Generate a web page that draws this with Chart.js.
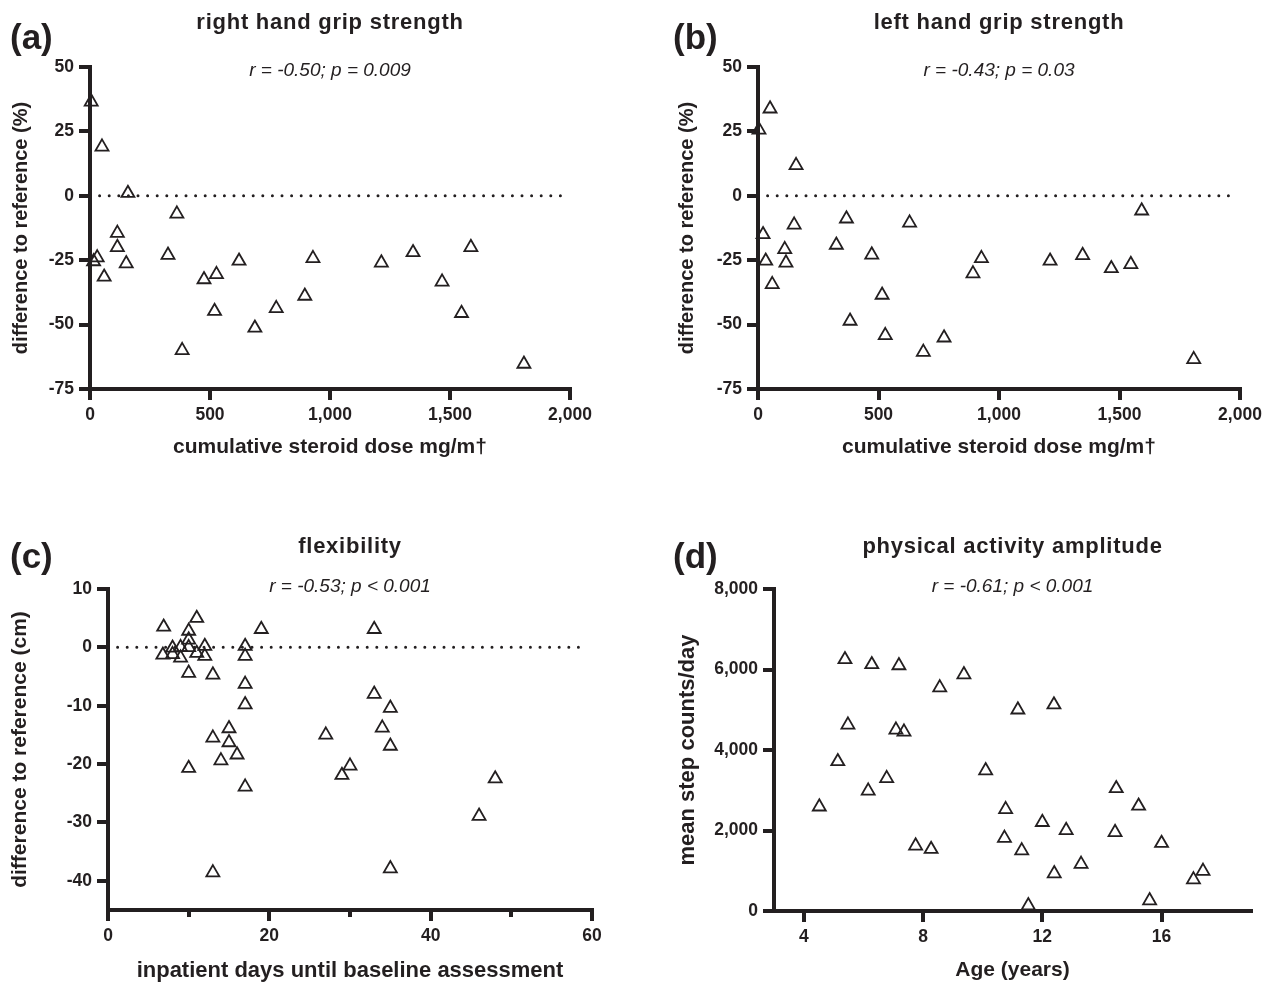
<!DOCTYPE html>
<html>
<head>
<meta charset="utf-8">
<script src="https://cdn.jsdelivr.net/npm/chart.js"></script>
<style>
  html, body { margin: 0; padding: 0; background: #fff; }
  #wrap { position: relative; width: 1270px; height: 984px; }
  canvas { position: absolute; }
</style>
</head>
<body>
<div id="wrap">
  <canvas id="chartA" width="635" height="492" style="left:0;top:0"></canvas>
  <canvas id="chartB" width="610" height="492" style="left:660px;top:0"></canvas>
  <canvas id="chartC" width="635" height="492" style="left:0;top:492px"></canvas>
  <canvas id="chartD" width="610" height="492" style="left:660px;top:492px"></canvas>
</div>
<script>
// (a) right hand grip strength vs cumulative steroid dose
const rightDose = [5, 50, 158, 362, 114, 114, 15, 30, 151, 59, 325, 384, 475, 527, 519, 621, 687, 776, 895, 929, 1214, 1346, 1467, 1548, 1587, 1808];
const rightDiff = [36.5, 19, 1, -7, -14.5, -20, -25.5, -24, -26.3, -31.5, -23, -60, -32.5, -30.5, -44.8, -25.3, -51.3, -43.7, -38.9, -24.3, -26, -22, -33.4, -45.6, -20, -65.3];

// (b) left hand grip strength vs cumulative steroid dose
const leftDose = [4, 50, 158, 1592, 21, 150, 367, 629, 325, 111, 32, 116, 59, 472, 515, 382, 528, 686, 772, 892, 927, 1212, 1347, 1466, 1547, 1808];
const leftDiff = [25.6, 33.8, 11.8, -5.8, -15, -11.3, -8.9, -10.5, -19.1, -20.8, -25.3, -26, -34.4, -22.9, -38.5, -48.6, -54.2, -60.7, -55.1, -30.2, -24.3, -25.3, -23.1, -28.2, -26.6, -63.5];

// (c) flexibility vs inpatient days
const flexDays = [6.9, 11, 10, 10, 8, 9, 10, 12, 6.8, 8, 9, 11, 12, 10, 13, 17, 17, 19, 17, 17, 13, 15, 15, 16, 14, 27, 33, 33, 35, 34, 35, 10, 17, 13, 29, 30, 35, 46, 48];
const flexDiff = [3.5, 5, 2.8, 1.3, -0.1, 0, 0, 0.2, -1.3, -1.2, -1.8, -1, -1.5, -4.4, -4.7, 0.2, -1.5, 3.1, -6.3, -9.8, -15.5, -13.9, -16.3, -18.4, -19.4, -15, 3.1, -8, -10.4, -13.8, -16.9, -20.7, -23.9, -38.6, -21.9, -20.3, -37.9, -28.9, -22.5];

// (d) physical activity amplitude vs age
const age = [4.52, 5.14, 6.16, 6.78, 7.75, 8.27, 10.1, 10.77, 10.73, 11.31, 11.53, 12.0, 12.4, 12.8, 13.3, 14.44, 14.48, 15.23, 15.6, 16.0, 17.07, 17.39, 5.38, 6.28, 7.19, 8.56, 9.37, 5.48, 7.09, 7.36, 11.18, 12.39];
const steps = [2590, 3715, 2985, 3295, 1620, 1535, 3490, 2525, 1810, 1500, 135, 2205, 930, 2005, 1165, 1955, 3045, 2610, 260, 1685, 780, 990, 6250, 6125, 6100, 5550, 5875, 4625, 4500, 4450, 5000, 5125];

// axis ticks
const doseTicks = [0, 500, 1000, 1500, 2000];
const gripTicks = [50, 25, 0, -25, -50, -75];
const dayTicks = [0, 10, 20, 30, 40, 50, 60];
const flexTicks = [10, 0, -10, -20, -30, -40];
const ageTicks = [4, 8, 12, 16];
const stepTicks = [0, 2000, 4000, 6000, 8000];

// dotted reference line at zero
const zeroDose = [0, 1975];
const zeroDays = [0, 59];

const INK = '#231f20';
const FONT = '"Liberation Sans", Arial, Helvetica, sans-serif';
Chart.defaults.font.family = FONT;
Chart.defaults.color = INK;

const toPoints = (xs, ys) => xs.map((x, i) => ({ x: x, y: ys[i] }));

// panel letter, title and r/p text
const panelText = {
  id: 'panelText',
  afterDraw(chart, args, o) {
    const { ctx, chartArea } = chart;
    const cx = (chartArea.left + chartArea.right) / 2;
    ctx.save();
    ctx.fillStyle = INK;
    ctx.textBaseline = 'alphabetic';
    ctx.textAlign = 'left';
    ctx.font = 'bold 35px ' + FONT;
    ctx.fillText(o.letter, o.letterX, chartArea.top + o.letterDy);
    ctx.textAlign = 'center';
    ctx.font = 'bold 22px ' + FONT;
    ctx.letterSpacing = '0.75px';
    ctx.fillText(o.title, cx, chartArea.top + o.titleDy);
    ctx.letterSpacing = '0px';
    ctx.font = 'italic 19px ' + FONT;
    ctx.fillText(o.stat, cx, chartArea.top + o.statDy);
    ctx.restore();
  }
};

function axis(p) {
  return {
    type: 'linear',
    min: p.min,
    max: p.max,
    afterBuildTicks: s => { s.ticks = p.ticks.map(v => ({ value: v })); },
    afterFit: s => { if (p.width !== undefined) s.width = p.width; if (p.height !== undefined) s.height = p.height; },
    border: { display: true, width: 4, color: INK },
    grid: {
      drawOnChartArea: false,
      drawTicks: true,
      tickLength: 11,
      lineWidth: 4,
      color: INK,
      tickBorderDash: p.minor ? (c => (c.tick && p.minor.includes(c.tick.value)) ? [5, 60] : []) : []
    },
    ticks: {
      padding: 5,
      font: { size: 17.5, weight: 'bold' },
      color: INK,
      callback: p.label || (v => v.toLocaleString('en-US'))
    },
    title: {
      display: true,
      text: p.title,
      color: INK,
      font: { size: p.titleSize || 20.5, weight: 'bold' },
      padding: p.titlePad
    }
  };
}

function makePanel(id, p) {
  const datasets = [{
    type: 'scatter',
    data: toPoints(p.xs, p.ys),
    pointStyle: 'triangle',
    pointRadius: 7.5,
    pointBorderWidth: 1.8,
    pointBorderColor: INK,
    pointBackgroundColor: 'rgba(0,0,0,0)',
    clip: false
  }];
  if (p.zero) {
    datasets.unshift({
      type: 'line',
      data: p.zero.map(x => ({ x: x, y: 0 })),
      borderColor: INK,
      borderWidth: 3,
      borderDash: [0, 9.6],
      borderCapStyle: 'round',
      pointRadius: 0,
      clip: false
    });
  }
  new Chart(document.getElementById(id), {
    type: 'scatter',
    data: { datasets },
    plugins: [panelText],
    options: {
      responsive: false,
      animation: false,
      events: [],
      locale: 'en-US',
      layout: { padding: p.pad },
      plugins: {
        legend: { display: false },
        tooltip: { enabled: false },
        panelText: p.text
      },
      scales: { x: axis(p.x), y: axis(p.y) }
    }
  });
}

makePanel('chartA', {
  xs: rightDose, ys: rightDiff, zero: zeroDose,
  pad: { top: 67, right: 65, bottom: 0, left: 0 },
  x: { min: 0, max: 2000, ticks: doseTicks, height: 103, titleSize: 21, title: 'cumulative steroid dose mg/m\u2020', titlePad: { top: 0, bottom: 32.4 } },
  y: { min: -75, max: 50, ticks: gripTicks, width: 90, titleSize: 20, title: 'difference to reference (%)', titlePad: { top: 9, bottom: 0 } },
  text: { letter: '(a)', letterX: 10, letterDy: -18, title: 'right hand grip strength', titleDy: -38, stat: 'r = -0.50; p = 0.009', statDy: 9 }
});

makePanel('chartB', {
  xs: leftDose, ys: leftDiff, zero: zeroDose,
  pad: { top: 67, right: 30, bottom: 0, left: 0 },
  x: { min: 0, max: 2000, ticks: doseTicks, height: 103, titleSize: 21, title: 'cumulative steroid dose mg/m\u2020', titlePad: { top: 0, bottom: 32.4 } },
  y: { min: -75, max: 50, ticks: gripTicks, width: 98, titleSize: 20, title: 'difference to reference (%)', titlePad: { top: 15, bottom: 0 } },
  text: { letter: '(b)', letterX: 13, letterDy: -18, title: 'left hand grip strength', titleDy: -38, stat: 'r = -0.43; p = 0.03', statDy: 9 }
});

makePanel('chartC', {
  xs: flexDays, ys: flexDiff, zero: zeroDays,
  pad: { top: 97, right: 43, bottom: 0, left: 0 },
  x: { min: 0, max: 60, ticks: dayTicks, minor: [10, 30, 50], height: 74, titleSize: 22, title: 'inpatient days until baseline assessment', titlePad: { top: 0, bottom: 0 },
       label: v => (v % 20 === 0 ? String(v) : '') },
  y: { min: -45, max: 10, ticks: flexTicks, width: 108, titleSize: 21, title: 'difference to reference (cm)', titlePad: { top: 8, bottom: 0 } },
  text: { letter: '(c)', letterX: 10, letterDy: -21, title: 'flexibility', titleDy: -36, stat: 'r = -0.53; p < 0.001', statDy: 3 }
});

makePanel('chartD', {
  xs: age, ys: steps,
  pad: { top: 97, right: 19, bottom: 0, left: 0 },
  x: { min: 3, max: 19, ticks: ageTicks, height: 73, titleSize: 21, title: 'Age (years)', titlePad: { top: 0, bottom: 1.5 } },
  y: { min: 0, max: 8000, ticks: stepTicks, width: 114, titleSize: 22, title: 'mean step counts/day', titlePad: { top: 14.5, bottom: 0 } },
  text: { letter: '(d)', letterX: 13, letterDy: -21, title: 'physical activity amplitude', titleDy: -36, stat: 'r = -0.61; p < 0.001', statDy: 3 }
});
</script>
</body>
</html>
